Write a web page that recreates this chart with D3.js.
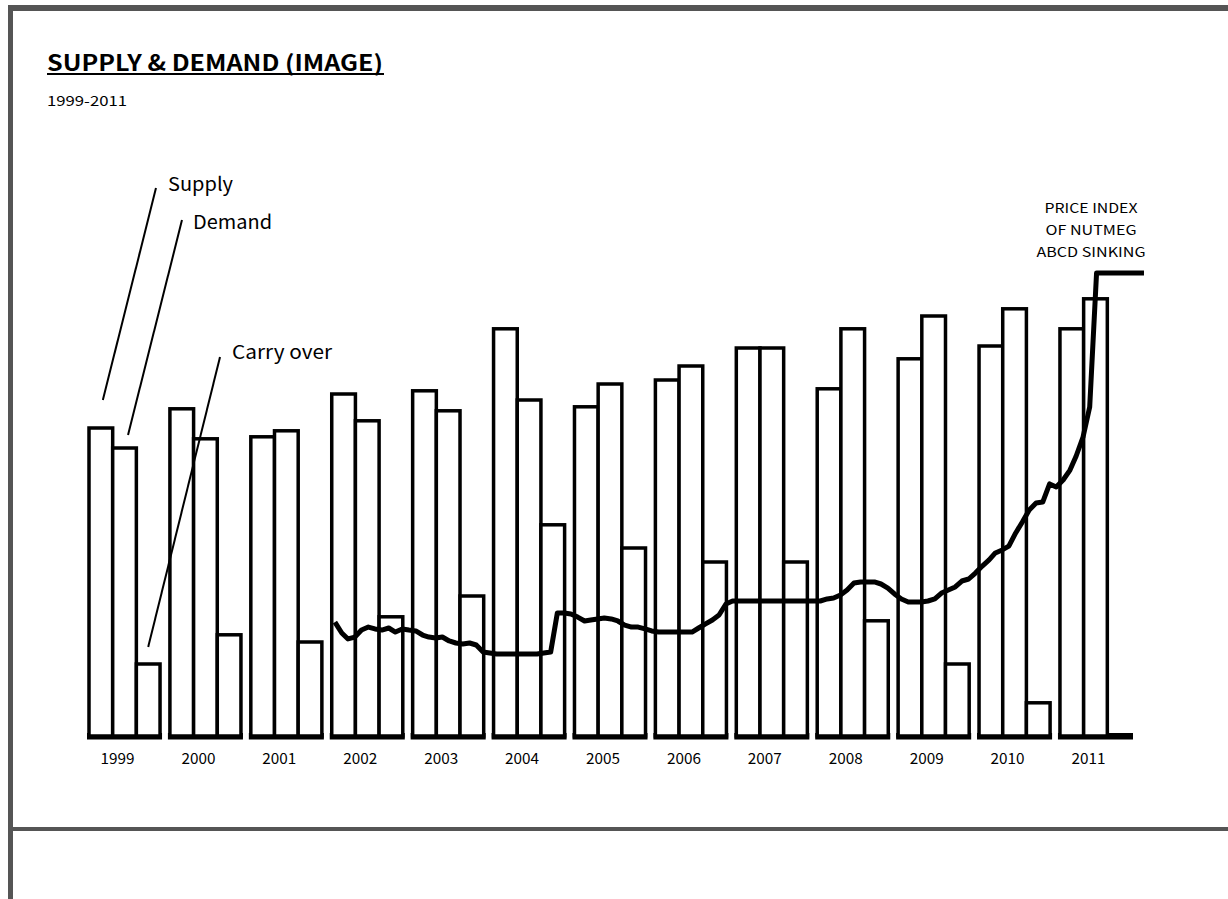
<!DOCTYPE html>
<html>
<head>
<meta charset="utf-8">
<script src="https://cdn.jsdelivr.net/npm/d3@7"></script>
<style>
  html, body { margin: 0; padding: 0; background: #fff; }
  svg { display: block; }
  text { font-family: "Noto Sans CJK JP", "Liberation Sans", sans-serif; fill: #000; }
</style>
</head>
<body>
<svg id="chart" width="1228" height="899"></svg>
<script>
// ---------------- data ----------------
const years = [1999, 2000, 2001, 2002, 2003, 2004, 2005, 2006, 2007, 2008, 2009, 2010, 2011];
const seriesKeys = ["Supply", "Demand", "Carry over"];
const supply    = [77.0, 81.8, 74.8, 85.5, 86.3, 101.8, 82.3, 89.0, 97.0, 86.8, 94.3, 97.5, 101.8];
const demand    = [72.0, 74.3, 76.3, 78.8, 81.3, 84.0, 88.0, 92.5, 97.0, 101.8, 105.0, 106.8, 109.3];
const carryOver = [18.0, 25.3, 23.5, 29.8, 35.0, 52.8, 47.0, 43.5, 43.5, 28.8, 18.0, 8.3, 0.0];

// monthly price index, Jan 2002 .. Jan 2012
const priceStart = { year: 2002, month: 0 };
const priceIndex = [
  84.4, 76.3, 71.9, 73.3, 78.5, 80.7, 79.3, 78.5, 80.0, 77.0, 79.3, 78.5,   // 2002
  77.8, 74.8, 73.3, 72.6, 73.3, 70.4, 68.9, 68.1, 68.9, 67.4, 62.2, 61.5,   // 2003
  60.7, 60.7, 60.7, 60.7, 60.7, 60.7, 60.7, 61.5, 62.2, 91.1, 91.1, 90.4,   // 2004
  88.1, 85.2, 85.9, 86.7, 87.4, 86.7, 85.2, 82.2, 80.7, 80.7, 79.3, 77.8,   // 2005
  77.0, 77.0, 77.0, 77.0, 77.0, 77.0, 80.0, 83.0, 85.9, 89.6, 97.8, 100.0,  // 2006
  100, 100, 100, 100, 100, 100, 100, 100, 100, 100, 100, 100,               // 2007
  100.0, 101.5, 102.2, 104.4, 108.1, 113.3, 114.1, 114.1, 114.1, 112.6, 109.6, 105.2, // 2008
  101.5, 99.3, 99.3, 99.3, 100.0, 101.5, 105.9, 108.1, 110.4, 114.8, 116.3, 120.7,   // 2009
  125.9, 130.4, 135.6, 137.8, 140.7, 150.4, 158.5, 167.4, 172.6, 173.3, 186.7, 184.4, // 2010
  189.6, 197.0, 207.4, 221.5, 243.7, 343, 343, 343, 343, 343, 343, 343,     // 2011
  343                                                                         // Jan 2012
];

const titleText = "SUPPLY & DEMAND (IMAGE)";
const subtitleText = "1999-2011";
const priceLabel = ["PRICE INDEX", "OF NUTMEG", "ABCD SINKING"];

// ---------------- layout ----------------
const svg = d3.select("#chart");
const W = 1228, H = 899;

svg.append("rect").attr("width", W).attr("height", H).attr("fill", "#fff");

// frame
const frameColor = "#555555";
svg.append("rect").attr("x", 8).attr("y", 5).attr("width", W - 8).attr("height", 6).attr("fill", frameColor);
svg.append("rect").attr("x", 8).attr("y", 5).attr("width", 5).attr("height", H - 5).attr("fill", frameColor);
svg.append("rect").attr("x", 8).attr("y", 827).attr("width", W - 8).attr("height", 4).attr("fill", frameColor);

// title
svg.append("text")
  .attr("x", 47).attr("y", 71)
  .attr("font-size", 22).attr("font-weight", "bold")
  .attr("textLength", 336).attr("lengthAdjust", "spacingAndGlyphs")
  .text(titleText);
svg.append("line").attr("x1", 47).attr("x2", 384).attr("y1", 74).attr("y2", 74)
  .attr("stroke", "#000").attr("stroke-width", 2);

svg.append("text")
  .attr("x", 47).attr("y", 106)
  .attr("font-size", 14)
  .attr("textLength", 80).attr("lengthAdjust", "spacingAndGlyphs")
  .text(subtitleText);

// scales
const baseY = 736;
const xBand = d3.scaleBand().domain(years).range([89, 1131]).paddingInner(0.122).paddingOuter(0);
const xSub = d3.scaleBand().domain(seriesKeys).range([0, xBand.bandwidth()]);
const yBar = d3.scaleLinear().domain([0, 100]).range([baseY, 336]);
const step = xBand.step();
const xTime = d3.scaleTime()
  .domain([new Date(1999, 0, 1), new Date(2012, 0, 1)])
  .range([xBand(1999), xBand(1999) + step * 13]);
const yPrice = d3.scaleLinear().domain([0, 100]).range([baseY, 601]);

const rows = years.map((y, i) => ({ year: y, values: [supply[i], demand[i], carryOver[i]] }));

// group baselines
svg.append("g").selectAll("rect").data(years).join("rect")
  .attr("x", d => xBand(d) - 2)
  .attr("y", baseY - 3)
  .attr("width", xBand.bandwidth() + 4)
  .attr("height", 6.5)
  .attr("fill", "#000");

// bars
const groups = svg.append("g").selectAll("g").data(rows).join("g")
  .attr("transform", d => `translate(${xBand(d.year)},0)`);
groups.selectAll("rect").data(d => d.values.map((v, k) => ({ key: seriesKeys[k], v }))).join("rect")
  .attr("x", d => xSub(d.key))
  .attr("y", d => yBar(d.v))
  .attr("width", xSub.bandwidth())
  .attr("height", d => baseY - yBar(d.v))
  .attr("fill", "#fff")
  .attr("stroke", "#000")
  .attr("stroke-width", 3.5);

// year axis
const axis = d3.axisBottom(xBand).tickSize(0).tickPadding(13);
const axG = svg.append("g").attr("transform", `translate(-7,${baseY + 4})`).call(axis);
axG.select(".domain").remove();
axG.selectAll("text")
  .attr("font-size", 15)
  .attr("font-family", "\"Noto Sans CJK JP\", \"Liberation Sans\", sans-serif")
  .attr("textLength", 34).attr("lengthAdjust", "spacingAndGlyphs")
  .attr("fill", "#000");

// price line
const priceData = priceIndex.map((v, i) => ({
  date: new Date(priceStart.year, priceStart.month + i, 15),
  v
}));
const line = d3.line().x(d => xTime(d.date)).y(d => yPrice(d.v));
svg.append("path").datum(priceData)
  .attr("d", line)
  .attr("fill", "none")
  .attr("stroke", "#000")
  .attr("stroke-width", 5)
  .attr("stroke-linejoin", "round");

// price label
const last = priceData[priceData.length - 1];
const lastY = yPrice(last.v);
const labelX = 1091;
priceLabel.forEach((t, i) => {
  svg.append("text")
    .attr("x", labelX).attr("y", lastY - 60 + i * 22)
    .attr("text-anchor", "middle")
    .attr("font-size", 13.5)
    .attr("textLength", [93, 91, 109][i]).attr("lengthAdjust", "spacingAndGlyphs")
    .text(t);
});

// leader annotations for 1999 bars
const ann = [
  { key: "Supply", v: supply[0], dx: 2, dy: -28, sx: 156, sy: 188, tx: 168, ty: 191, tl: 65 },
  { key: "Demand", v: demand[0], dx: 3.5, dy: -13, sx: 182, sy: 220, tx: 193, ty: 229, tl: 79 },
  { key: "Carry over", v: carryOver[0], dx: 0, dy: -17, sx: 220, sy: 357, tx: 232, ty: 359, tl: 100 }
];
ann.forEach(a => {
  const ex = xBand(1999) + xSub(a.key) + xSub.bandwidth() / 2 + a.dx;
  const ey = yBar(a.v) + a.dy;
  svg.append("line")
    .attr("x1", a.sx).attr("y1", a.sy).attr("x2", ex).attr("y2", ey)
    .attr("stroke", "#000").attr("stroke-width", 2);
  svg.append("text")
    .attr("x", a.tx).attr("y", a.ty)
    .attr("font-size", 19)
    .attr("textLength", a.tl).attr("lengthAdjust", "spacingAndGlyphs")
    .text(a.key);
});
</script>
</body>
</html>
